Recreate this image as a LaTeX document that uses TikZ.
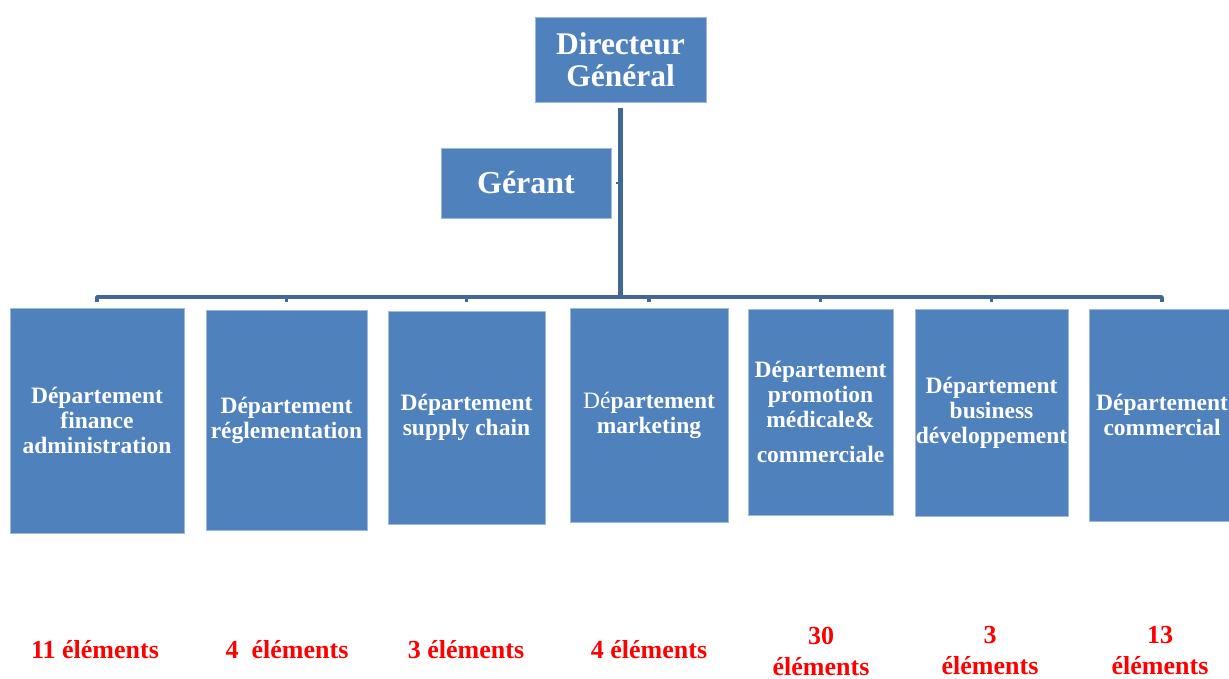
\documentclass[tikz,border=0pt]{standalone}
\usepackage{fontspec}
\setmainfont{Liberation Serif}
\usetikzlibrary{calc}
\definecolor{boxblue}{HTML}{4F81BD}
\definecolor{linkblue}{HTML}{3F6797}
\definecolor{countred}{HTML}{FF0000}
\tikzset{
  unit/.style={fill=boxblue, draw=boxblue!55!white, line width=0.8pt, text=white,
    font=\bfseries\fontsize{23.5}{25}\selectfont, align=center, inner sep=0pt},
  head/.style={unit, font=\bfseries\fontsize{31.5}{32}\selectfont},
  count/.style={text=countred, font=\bfseries\fontsize{26}{31}\selectfont, align=center},
  trunk/.style={draw=linkblue, line width=5pt},
  bus/.style={draw=linkblue, line width=3.5pt, line join=round}
}
\begin{document}
\begin{tikzpicture}[x=1pt, y=-1pt]
\useasboundingbox (0,0) rectangle (1229,679);

% management
\node[head, minimum width=171pt, minimum height=85pt] (dg) at (620.5,59.5) {Directeur\\Général};
\node[head, minimum width=170pt, minimum height=70pt, font=\bfseries\fontsize{32}{34}\selectfont] (gerant) at (526,183) {Gérant};

% departments
\node[unit, minimum width=174pt, minimum height=225pt] (d1) at (97,420.5) {Département\\finance\\administration};
\node[unit, minimum width=161pt, minimum height=220pt] (d2) at (286.5,420) {Département\\réglementation};
\node[unit, minimum width=157pt, minimum height=213pt] (d3) at (466.5,417.5) {Département\\supply chain};
\node[unit, minimum width=158pt, minimum height=214pt] (d4) at (649,415) {{\mdseries Dé}partement\\marketing};
\node[unit, minimum width=145pt, minimum height=206pt] (d5) at (820.5,412) {Département\\promotion\\médicale\&\\[10pt]commerciale};
\node[unit, minimum width=153pt, minimum height=207pt] (d6) at (991.5,412.5) {Département\\business\\développement};
\node[unit, minimum width=146pt, minimum height=212pt] (d7) at (1162,415) {Département\\commercial};

% head counts
\node[count] (c1) at (95,650) {11 éléments};
\node[count] (c2) at (287,650) {4~~éléments};
\node[count] (c3) at (466,650) {3 éléments};
\node[count] (c4) at (649,650) {4 éléments};
\node[count] (c5) at (821,651) {30\\éléments};
\node[count] (c6) at (990,651) {3\\éléments};
\node[count] (c7) at (1160,651) {13\\éléments};

% connectors
\coordinate (busy) at (0,297);
\coordinate (ticky) at (0,302);
\draw[trunk] ($(dg.south)+(0,6)$) -- (dg.south |- busy);
\draw[linkblue, line width=2.5pt] ($(gerant.east)+(5,0)$) -- (dg.south |- gerant.east);
\draw[bus] (d1.north |- ticky) |- (d7.north |- busy) -- (d7.north |- ticky);
\foreach \i in {2,...,6}
  \draw[bus] (d\i.north |- busy) -- (d\i.north |- ticky);
\end{tikzpicture}
\end{document}
